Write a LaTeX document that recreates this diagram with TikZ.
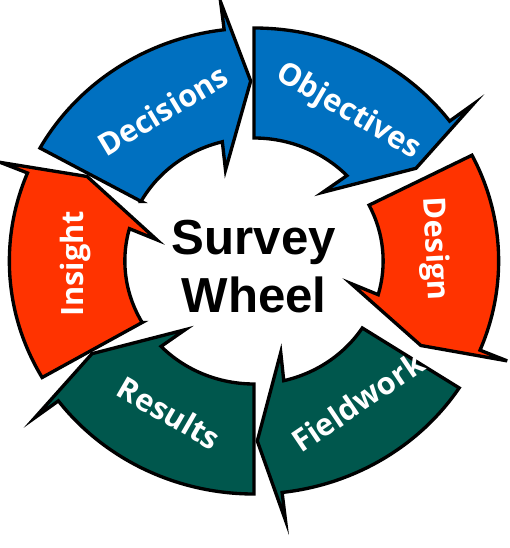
\documentclass[tikz,border=0pt]{standalone}
\usepackage{fontspec}
\setmainfont{Liberation Sans}
\newfontfamily\segfont{Open Sans}
\usepackage{xcolor}
\definecolor{wheelblue}{RGB}{0,112,192}
\definecolor{wheelred}{RGB}{255,51,0}
\definecolor{wheelgreen}{RGB}{0,87,77}
\tikzset{
	segment/.style={draw=black, line width=1.9pt, line join=miter},
	seglabel/.style={text=white, inner sep=0pt,
			font=\segfont\bfseries\fontsize{17.5}{20}\selectfont}
}

\begin{document}
\begin{tikzpicture}[x=0.02cm, y=0.02cm]
		\useasboundingbox (-254,-287) rectangle (256,261);

		\begin{scope}[xscale=1.05]
			% tail angle / span / colour
			\foreach \t/\s/\col in {90/59/wheelblue, 27/55/wheelred, -33/56/wheelgreen,
					-90/59/wheelgreen, -150/58/wheelred, 151/60/wheelblue} {
				\pgfmathsetmacro{\ao}{\t-0.9*\s}
				\pgfmathsetmacro{\ai}{\t-0.78*\s}
				\pgfmathsetmacro{\ab}{\t-0.74*\s}
				\pgfmathsetmacro{\ah}{\t-\s}
				\draw[segment, fill=\col] (\t:123) -- (\t:233)
					arc[start angle=\t, end angle=\ao, radius=233]
					-- (\ao:261) -- (\ah:180) -- (\ab:95) -- (\ai:123)
					arc[start angle=\ai, end angle=\t, radius=123] -- cycle;
			}

			\node[seglabel, rotate=-30]	(objectives)	at (59:174)		{Objectives};
			\node[seglabel, rotate=-87]	(design)		at (4:172)		{Design};
			\node[seglabel, rotate=34]	(fieldwork)		at (-55:172)	{Fieldwork};
			\node[seglabel, rotate=-30]	(results)		at (242:172)	{Results};
			\node[seglabel, rotate=90]	(insight)		at (181:170)	{Insight};
			\node[seglabel, rotate=31]	(decisions)		at (120:174)	{Decisions};
		\end{scope}

		\node[font=\bfseries\fontsize{28}{33}\selectfont, align=center] (wheel) at (0,-6) {Survey\\Wheel};
	\end{tikzpicture}
\end{document}
